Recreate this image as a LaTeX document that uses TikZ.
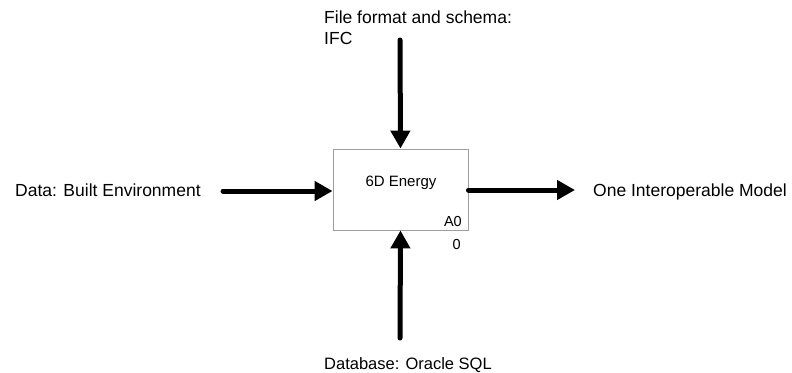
\documentclass[tikz,border=0pt]{standalone}
\usepackage{fontspec}
\setmainfont{Liberation Sans}
\usetikzlibrary{arrows.meta}
\begin{document}
\begin{tikzpicture}[x=1pt,y=-1pt,
  flow/.style={line width=5pt,line cap=round,-{Triangle[length=18pt,width=19pt]}},
  lbl/.style={inner sep=0pt,font=\fontsize{17.5}{21.5}\selectfont,text=black},
  act/.style={draw=black!38,line width=0.9pt,inner sep=0pt,minimum width=135pt,minimum height=81pt}]
\useasboundingbox (0,0) rectangle (792,372);
\node[act] (box) at (400.5,189.5) {};
\node[inner sep=0pt,anchor=base,font=\fontsize{15}{17}\selectfont] (title) at (401,186) {6D Energy};
\node[inner sep=0pt,anchor=base east,font=\fontsize{14.5}{16}\selectfont] (a0) at (462,226) {A0};
\node[inner sep=0pt,anchor=base east,font=\fontsize{14.5}{16}\selectfont] (zero) at (461,249) {0};
\coordinate (inS) at (223,191);
\coordinate (outE) at (575,190);
\coordinate (ctrlS) at (400,40);
\coordinate (mechS) at (400,338);
\draw[flow] (inS) -- (inS -| box.west);
\draw[flow] (box.east |- outE) -- (outE);
\draw[flow] (ctrlS) -- (box.north);
\draw[flow] (mechS) -- (box.south);
\node[lbl,anchor=base west] (input) at (15,196) {Data: Built Environment};
\node[lbl,anchor=base west] (output) at (593,196) {One Interoperable Model};
\node[lbl,anchor=north west,align=left] (control) at (324,10.5) {File format and schema:\\IFC};
\node[lbl,anchor=base west,font=\fontsize{16.5}{19}\selectfont] (mech) at (324,369) {Database: Oracle SQL};
\end{tikzpicture}
\end{document}
